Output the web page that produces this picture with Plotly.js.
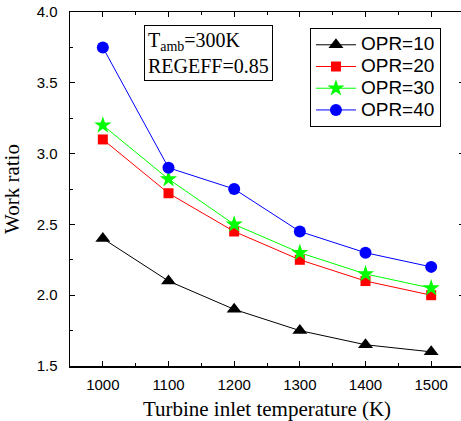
<!DOCTYPE html>
<html><head><meta charset="utf-8">
<script src="https://cdn.plot.ly/plotly-3.0.1.min.js"></script>
<style>html,body{margin:0;padding:0;overflow:hidden;background:#fff;width:461px;height:421px}</style>
</head><body>
<div id="chart" style="width:465px;height:421px"></div>
<script>
const temperatures = [1000, 1100, 1200, 1300, 1400, 1500];
const opr10 = [2.40, 2.10, 1.90, 1.75, 1.65, 1.60];
const opr20 = [3.10, 2.72, 2.45, 2.25, 2.10, 2.00];
const opr30 = [3.20, 2.82, 2.50, 2.30, 2.15, 2.05];
const opr40 = [3.75, 2.90, 2.75, 2.45, 2.30, 2.20];
const seriesNames = ['OPR=10', 'OPR=20', 'OPR=30', 'OPR=40'];

const styles = [
  {color:'#000000', symbol:'triangle-up', size:13},
  {color:'#ff0000', symbol:'square', size:10},
  {color:'#00ff00', symbol:'star', size:13},
  {color:'#0000ff', symbol:'circle', size:12}
];
const allSeries = [opr10, opr20, opr30, opr40];
const traces = allSeries.map((ys, i) => ({
  x: temperatures, y: ys,
  name: '<span style="font-size:19px">' + seriesNames[i] + '</span>',
  type:'scatter', mode:'lines+markers',
  line:{color:styles[i].color, width:1},
  marker:{color:styles[i].color, symbol:styles[i].symbol, size:styles[i].size, line:{width:0}}
}));

const layout = {
  width:465, height:421,
  margin:{l:70, r:1, t:12, b:55},
  paper_bgcolor:'#fff', plot_bgcolor:'#fff',
  showlegend:true,
  font:{family:'Liberation Sans, Arial, sans-serif', size:14, color:'#000'},
  xaxis:{
    range:[950,1550], tickvals:[1000,1100,1200,1300,1400,1500],
    ticks:'inside', ticklen:5, tickwidth:1, tickcolor:'#000',
    minor:{tickvals:[1050,1150,1250,1350,1450], ticks:'inside', ticklen:3, tickcolor:'#000'},
    showline:true, linecolor:'#000', linewidth:1.5, mirror:'ticks',
    showgrid:false, zeroline:false, ticklabelstandoff:4,
    tickfont:{family:'Liberation Sans, Arial, sans-serif', size:15},
    title:{text:'Turbine inlet temperature (K)', font:{family:'Liberation Serif, Times New Roman, serif', size:21}, standoff:12}
  },
  yaxis:{
    range:[1.5,4.0], tickvals:[1.5,2.0,2.5,3.0,3.5,4.0], ticktext:['1.5','2.0','2.5','3.0','3.5','4.0'],
    ticks:'inside', ticklen:5, tickwidth:1, tickcolor:'#000',
    minor:{tickvals:[1.75,2.25,2.75,3.25,3.75], ticks:'inside', ticklen:3, tickcolor:'#000'},
    showline:true, linecolor:'#000', linewidth:1.5, mirror:'ticks',
    showgrid:false, zeroline:false, ticklabelstandoff:8,
    tickfont:{family:'Liberation Sans, Arial, sans-serif', size:15},
    title:{text:'Work ratio', font:{family:'Liberation Serif, Times New Roman, serif', size:21}, standoff:12}
  },
  legend:{
    x:0.609, y:0.955, xanchor:'left', yanchor:'top',
    bordercolor:'#000', borderwidth:1, bgcolor:'#fff',
    font:{family:'Liberation Sans, Arial, sans-serif', size:14.4},
    tracegroupgap:0, itemwidth:40
  },
  annotations:[{
    xref:'paper', yref:'paper', x:0.187, y:0.962, xanchor:'left', yanchor:'top',
    text:'T<sub>amb</sub>=300K<br>REGEFF=0.85', align:'left', showarrow:false,
    font:{family:'Liberation Serif, Times New Roman, serif', size:20, color:'#000'},
    bordercolor:'#000', borderwidth:1, borderpad:3, bgcolor:'#fff'
  }]
};
Plotly.newPlot('chart', traces, layout, {displayModeBar:false, staticPlot:true});
</script>
</body></html>
